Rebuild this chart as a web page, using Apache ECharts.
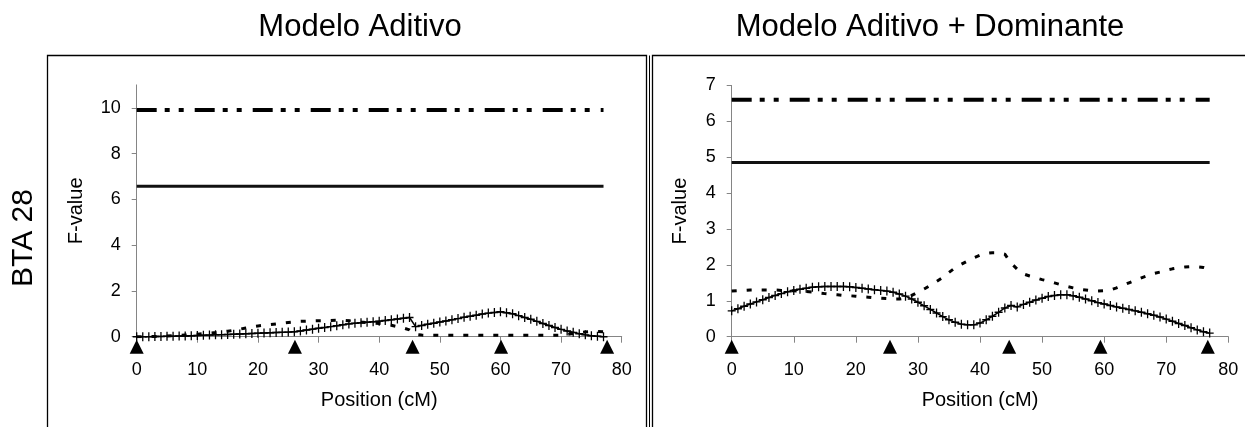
<!DOCTYPE html>
<html>
<head>
<meta charset="utf-8">
<script src="https://cdn.jsdelivr.net/npm/echarts@6/dist/echarts.min.js"></script>
<style>
html,body{margin:0;padding:0;background:#fff;}
#c{width:1245px;height:427px;}
</style>
</head>
<body>
<div id="c"></div>
<script>
// ---- data ----
const positions = [0,1,2,3,4,5,6,7,8,9,10,11,12,13,14,15,16,17,18,19,20,21,22,23,24,25,26,27,28,29,30,31,32,33,34,35,36,37,38,39,40,41,42,43,44,45,46,47,48,49,50,51,52,53,54,55,56,57,58,59,60,61,62,63,64,65,66,67,68,69,70,71,72,73,74,75,76,77];

// Modelo Aditivo
const leftAdditive = [0.00,0.00,0.00,0.01,0.01,0.02,0.02,0.03,0.03,0.04,0.05,0.06,0.07,0.08,0.09,0.10,0.11,0.12,0.13,0.14,0.15,0.16,0.17,0.18,0.19,0.20,0.22,0.25,0.29,0.33,0.37,0.40,0.44,0.48,0.52,0.56,0.59,0.61,0.63,0.65,0.68,0.71,0.74,0.77,0.81,0.84,0.44,0.49,0.54,0.59,0.64,0.69,0.74,0.79,0.85,0.89,0.94,0.99,1.03,1.06,1.09,1.05,1.00,0.92,0.84,0.76,0.67,0.58,0.49,0.40,0.32,0.25,0.19,0.13,0.08,0.04,0.02,0.00];
const leftDashed = [0.00,0.00,0.00,0.01,0.02,0.03,0.04,0.05,0.07,0.09,0.11,0.13,0.16,0.18,0.21,0.24,0.28,0.33,0.38,0.43,0.47,0.50,0.53,0.56,0.59,0.62,0.65,0.67,0.68,0.69,0.70,0.70,0.71,0.72,0.72,0.70,0.67,0.64,0.62,0.60,0.58,0.55,0.50,0.44,0.38,0.30,0.10,0.07,0.06,0.06,0.06,0.06,0.06,0.06,0.06,0.06,0.06,0.06,0.06,0.06,0.06,0.06,0.06,0.06,0.06,0.06,0.06,0.06,0.06,0.06,0.07,0.10,0.14,0.18,0.21,0.23,0.23,0.22];
const leftThresholdSolid = 6.57;
const leftThresholdDashDot = 9.9;
const leftMarkers = [0, 26.1, 45.5, 60.1, 77.6];
const leftYTicks = [0,2,4,6,8,10];

// Modelo Aditivo + Dominante
const rightAdditive = [0.72,0.78,0.85,0.91,0.97,1.03,1.09,1.15,1.20,1.25,1.29,1.32,1.35,1.38,1.39,1.40,1.40,1.40,1.40,1.39,1.37,1.35,1.33,1.31,1.29,1.27,1.24,1.19,1.13,1.05,0.96,0.86,0.76,0.66,0.56,0.47,0.40,0.35,0.33,0.33,0.38,0.47,0.57,0.68,0.80,0.87,0.83,0.90,0.96,1.02,1.07,1.12,1.15,1.17,1.17,1.14,1.10,1.05,1.00,0.95,0.91,0.87,0.83,0.79,0.76,0.72,0.68,0.64,0.60,0.55,0.49,0.43,0.37,0.31,0.25,0.19,0.14,0.10];
const rightDashed = [1.27,1.28,1.29,1.30,1.30,1.30,1.30,1.30,1.29,1.28,1.28,1.27,1.26,1.24,1.22,1.20,1.18,1.17,1.15,1.14,1.13,1.11,1.10,1.08,1.07,1.06,1.05,1.05,1.08,1.15,1.24,1.33,1.43,1.54,1.65,1.79,1.92,2.02,2.11,2.20,2.27,2.32,2.34,2.34,2.30,2.05,1.88,1.75,1.69,1.64,1.59,1.55,1.50,1.45,1.40,1.36,1.32,1.30,1.28,1.27,1.28,1.30,1.36,1.43,1.50,1.57,1.64,1.70,1.76,1.80,1.85,1.89,1.92,1.94,1.95,1.95,1.93,1.88];
const rightThresholdSolid = 4.85;
const rightThresholdDashDot = 6.6;
const rightMarkers = [0, 25.5, 44.7, 59.4, 76.7];
const rightYTicks = [0,1,2,3,4,5,6,7];

const titles = ['Modelo Aditivo', 'Modelo Aditivo + Dominante'];
const rowLabel = 'BTA 28';
const xName = 'Position (cM)';
const yName = 'F-value';

// ---- chart ----
const FONT = '"Liberation Sans", Arial, sans-serif';
const AXIS_GRAY = '#858585';
const plusPath = 'path://M4.2,0h1.6v10h-1.6z M0,4.2h10v1.6h-10z';

function pairs(xs, ys) { return xs.map((x, i) => [x, ys[i]]); }
function flat(v) { return [[positions[0], v], [positions[positions.length - 1], v]]; }

function xAxis(gridIndex) {
  return {
    type: 'value', gridIndex, min: 0, max: 80, interval: 10,
    name: xName, nameLocation: 'middle', nameGap: 54,
    nameTextStyle: { fontFamily: FONT, fontSize: 20, color: '#000' },
    axisLine: { lineStyle: { color: AXIS_GRAY, width: 1 } },
    axisTick: { show: true, inside: false, length: 6, lineStyle: { color: AXIS_GRAY } },
    axisLabel: { fontFamily: FONT, fontSize: 18, color: '#000', margin: 24 },
    splitLine: { show: false }
  };
}
function yAxis(gridIndex, max, interval, ticks, nameGap) {
  return {
    type: 'value', gridIndex, min: 0, max, interval,
    name: yName, nameLocation: 'middle', nameGap,
    nameTextStyle: { fontFamily: FONT, fontSize: 20, color: '#000' },
    axisLine: { show: true, lineStyle: { color: AXIS_GRAY, width: 1 } },
    axisTick: { show: true, length: 5, lineStyle: { color: AXIS_GRAY }, customValues: ticks },
    axisLabel: { fontFamily: FONT, fontSize: 18, color: '#000', margin: 16, customValues: ticks },
    splitLine: { show: false }
  };
}
function panelSeries(idx, add, dashed, solidT, ddT, markers) {
  return [
    { type: 'line', xAxisIndex: idx, yAxisIndex: idx, data: flat(ddT), symbol: 'none', silent: true,
      lineStyle: { color: '#000', width: 4, type: [20, 8, 5, 9, 5, 11] }, z: 2 },
    { type: 'line', xAxisIndex: idx, yAxisIndex: idx, data: flat(solidT), symbol: 'none', silent: true,
      lineStyle: { color: '#111', width: 3 }, z: 2 },
    { type: 'line', xAxisIndex: idx, yAxisIndex: idx, data: pairs(positions, dashed), symbol: 'none',
      lineStyle: { color: '#000', width: 3, type: [5, 10] }, z: 3 },
    { type: 'line', xAxisIndex: idx, yAxisIndex: idx, data: pairs(positions, add),
      symbol: plusPath, symbolSize: [8, 9], showAllSymbol: true,
      itemStyle: { color: '#000', borderWidth: 0, opacity: 1 },
      lineStyle: { color: '#000', width: 1.5 }, z: 4 },
    { type: 'scatter', xAxisIndex: idx, yAxisIndex: idx, data: markers.map(m => [m, 0]),
      symbol: 'triangle', symbolSize: [14, 14], symbolOffset: [0, 10], clip: false,
      itemStyle: { color: '#000', opacity: 1 }, z: 5 }
  ];
}

const chart = echarts.init(document.getElementById('c'), null, { renderer: 'canvas' });
chart.setOption({
  animation: false,
  backgroundColor: '#fff',
  textStyle: { fontFamily: FONT },
  grid: [
    { left: 136.7, width: 485, top: 84.9, height: 251.8, containLabel: false },
    { left: 731.7, width: 496.6, top: 85.4, height: 251.3, containLabel: false }
  ],
  xAxis: [xAxis(0), xAxis(1)],
  yAxis: [yAxis(0, 11, 2, leftYTicks, 50), yAxis(1, 7, 1, rightYTicks, 41)],
  series: [
    ...panelSeries(0, leftAdditive, leftDashed, leftThresholdSolid, leftThresholdDashDot, leftMarkers),
    ...panelSeries(1, rightAdditive, rightDashed, rightThresholdSolid, rightThresholdDashDot, rightMarkers)
  ],
  graphic: [
    { type: 'rect', shape: { x: 47.5, y: 55.5, width: 599, height: 400 }, style: { fill: 'none', stroke: '#000', lineWidth: 1.3 } },
    { type: 'line', shape: { x1: 649.5, y1: 55.5, x2: 649.5, y2: 440 }, style: { stroke: '#000', lineWidth: 1 } },
    { type: 'rect', shape: { x: 652.5, y: 55.5, width: 600, height: 400 }, style: { fill: 'none', stroke: '#000', lineWidth: 1.3 } },
    { type: 'text', x: 360, y: 27, style: { text: titles[0], font: '31px ' + FONT, fill: '#000', align: 'center', verticalAlign: 'middle' } },
    { type: 'text', x: 930, y: 27, style: { text: titles[1], font: '31px ' + FONT, fill: '#000', align: 'center', verticalAlign: 'middle' } },
    { type: 'text', x: 23.5, y: 238, rotation: Math.PI / 2, style: { text: rowLabel, font: '30px ' + FONT, fill: '#000', align: 'center', verticalAlign: 'middle' } }
  ]
});
</script>
</body>
</html>
